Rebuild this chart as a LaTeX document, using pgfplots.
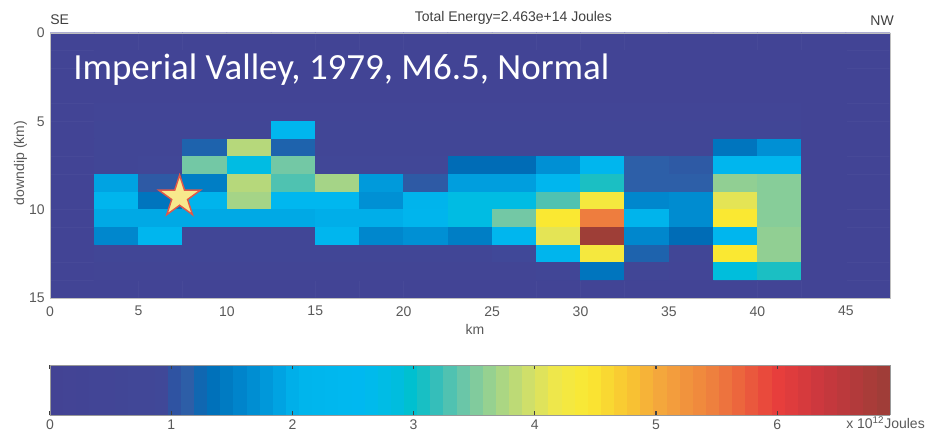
\documentclass[border=0pt]{standalone}
\usepackage{fontspec}
\setmainfont{Liberation Sans}
\newfontfamily\calibri{Carlito}
\usepackage{pgfplots}
\pgfplotsset{compat=1.18}

\pgfdeclareplotmark{fstar}{%
  \pgfpathmoveto{\pgfpointpolar{90}{\pgfplotmarksize}}%
  \pgfpathlineto{\pgfpointpolar{126}{0.382\pgfplotmarksize}}%
  \pgfpathlineto{\pgfpointpolar{162}{\pgfplotmarksize}}%
  \pgfpathlineto{\pgfpointpolar{198}{0.382\pgfplotmarksize}}%
  \pgfpathlineto{\pgfpointpolar{234}{\pgfplotmarksize}}%
  \pgfpathlineto{\pgfpointpolar{270}{0.382\pgfplotmarksize}}%
  \pgfpathlineto{\pgfpointpolar{306}{\pgfplotmarksize}}%
  \pgfpathlineto{\pgfpointpolar{342}{0.382\pgfplotmarksize}}%
  \pgfpathlineto{\pgfpointpolar{18}{\pgfplotmarksize}}%
  \pgfpathlineto{\pgfpointpolar{54}{0.382\pgfplotmarksize}}%
  \pgfpathclose
  \pgfusepathqfillstroke
}

\pgfplotsset{
  colormap={energy}{
    rgb255(0cm)=(67,67,148)
    rgb255(0.98cm)=(64,72,152)
    rgb255(1cm)=(47,80,160)
    rgb255(1.15cm)=(45,95,168)
    rgb255(1.3cm)=(0,108,182)
    rgb255(1.6cm)=(0,135,205)
    rgb255(1.9cm)=(0,163,226)
    rgb255(2.05cm)=(0,180,236)
    rgb255(2.6cm)=(0,185,240)
    rgb255(2.9cm)=(0,190,220)
    rgb255(3.0cm)=(0,192,205)
    rgb255(3.2cm)=(55,190,185)
    rgb255(3.45cm)=(115,200,165)
    rgb255(3.7cm)=(165,212,135)
    rgb255(4.0cm)=(215,225,100)
    rgb255(4.2cm)=(242,232,70)
    rgb255(4.45cm)=(250,232,50)
    rgb255(4.8cm)=(248,195,50)
    rgb255(5.0cm)=(245,170,60)
    rgb255(5.5cm)=(238,125,62)
    rgb255(6.0cm)=(232,62,60)
    rgb255(6.4cm)=(200,55,62)
    rgb255(6.93cm)=(155,62,55)
  }
}

\begin{document}
\begin{tikzpicture}
\begin{axis}[
  name=main,
  at={(37.5pt,100.5pt)}, anchor=south west,
  width=630pt, height=198.75pt, scale only axis,
  xmin=0, xmax=47.5, ymin=0, ymax=15, y dir=reverse,
  enlargelimits=false, axis on top,
  xtick={0,5,...,45}, ytick={0,5,10,15},
  major tick length=0pt,
  axis line style={draw=black!25},
  tick label style={font=\fontsize{10.5}{12}\selectfont, text=black!65, inner sep=0pt},
  xticklabel style={yshift=-6pt},
  yticklabel style={xshift=-3.75pt},
  /pgf/number format/assume math mode=true,
  colormap name=energy,
  point meta min=0, point meta max=6.93,
  colorbar horizontal, colorbar sampled,
  colorbar style={
    at={(parent axis.south west)}, anchor=north west, yshift=-42pt,
    width=630pt, height=37.5pt, scale only axis,
    samples=65,
    xtick={0,1,...,6},
    xtick pos=both, xticklabel pos=lower,
    xtick align=inside,
    major tick length=3pt,
    xtick style={draw=black!75, line width=0.9pt},
    axis line style={draw=black!40},
    xticklabel style={font=\fontsize{10.5}{12}\selectfont, text=black!65, inner sep=0pt, yshift=-3pt},
    /pgf/number format/assume math mode=true,
  },
]
\addplot[matrix plot*, mesh/cols=19, point meta=explicit] coordinates {
(1.25,0.5)[0.2] (3.75,0.5)[0.2] (6.25,0.5)[0.2] (8.75,0.5)[0.2] (11.25,0.5)[0.2] (13.75,0.5)[0.2] (16.25,0.5)[0.2] (18.75,0.5)[0.2] (21.25,0.5)[0.2] (23.75,0.5)[0.2] (26.25,0.5)[0.2] (28.75,0.5)[0.2] (31.25,0.5)[0.2] (33.75,0.5)[0.2] (36.25,0.5)[0.2] (38.75,0.5)[0.2] (41.25,0.5)[0.2] (43.75,0.5)[0.2] (46.25,0.5)[0.2]

(1.25,1.5)[0.2] (3.75,1.5)[0.2] (6.25,1.5)[0.2] (8.75,1.5)[0.2] (11.25,1.5)[0.2] (13.75,1.5)[0.2] (16.25,1.5)[0.2] (18.75,1.5)[0.2] (21.25,1.5)[0.2] (23.75,1.5)[0.2] (26.25,1.5)[0.2] (28.75,1.5)[0.2] (31.25,1.5)[0.2] (33.75,1.5)[0.2] (36.25,1.5)[0.2] (38.75,1.5)[0.2] (41.25,1.5)[0.2] (43.75,1.5)[0.2] (46.25,1.5)[0.2]

(1.25,2.5)[0.2] (3.75,2.5)[0.2] (6.25,2.5)[0.2] (8.75,2.5)[0.2] (11.25,2.5)[0.2] (13.75,2.5)[0.2] (16.25,2.5)[0.2] (18.75,2.5)[0.2] (21.25,2.5)[0.2] (23.75,2.5)[0.2] (26.25,2.5)[0.2] (28.75,2.5)[0.2] (31.25,2.5)[0.2] (33.75,2.5)[0.2] (36.25,2.5)[0.2] (38.75,2.5)[0.2] (41.25,2.5)[0.2] (43.75,2.5)[0.2] (46.25,2.5)[0.2]

(1.25,3.5)[0.2] (3.75,3.5)[0.2] (6.25,3.5)[0.2] (8.75,3.5)[0.2] (11.25,3.5)[0.2] (13.75,3.5)[0.2] (16.25,3.5)[0.2] (18.75,3.5)[0.2] (21.25,3.5)[0.2] (23.75,3.5)[0.2] (26.25,3.5)[0.2] (28.75,3.5)[0.2] (31.25,3.5)[0.2] (33.75,3.5)[0.2] (36.25,3.5)[0.2] (38.75,3.5)[0.2] (41.25,3.5)[0.2] (43.75,3.5)[0.2] (46.25,3.5)[0.2]

(1.25,4.5)[0.2] (3.75,4.5)[0.4] (6.25,4.5)[0.4] (8.75,4.5)[0.4] (11.25,4.5)[0.4] (13.75,4.5)[0.4] (16.25,4.5)[0.4] (18.75,4.5)[0.4] (21.25,4.5)[0.4] (23.75,4.5)[0.4] (26.25,4.5)[0.4] (28.75,4.5)[0.4] (31.25,4.5)[0.4] (33.75,4.5)[0.4] (36.25,4.5)[0.4] (38.75,4.5)[0.4] (41.25,4.5)[0.4] (43.75,4.5)[0.2] (46.25,4.5)[0.2]

(1.25,5.5)[0.2] (3.75,5.5)[0.5] (6.25,5.5)[0.5] (8.75,5.5)[0.5] (11.25,5.5)[0.5] (13.75,5.5)[2.3] (16.25,5.5)[0.5] (18.75,5.5)[0.5] (21.25,5.5)[0.5] (23.75,5.5)[0.5] (26.25,5.5)[0.5] (28.75,5.5)[0.5] (31.25,5.5)[0.5] (33.75,5.5)[0.5] (36.25,5.5)[0.5] (38.75,5.5)[0.5] (41.25,5.5)[0.5] (43.75,5.5)[0.2] (46.25,5.5)[0.2]

(1.25,6.5)[0.2] (3.75,6.5)[0.5] (6.25,6.5)[0.6] (8.75,6.5)[1.2] (11.25,6.5)[3.8] (13.75,6.5)[1.2] (16.25,6.5)[0.6] (18.75,6.5)[0.6] (21.25,6.5)[0.6] (23.75,6.5)[0.6] (26.25,6.5)[0.6] (28.75,6.5)[0.6] (31.25,6.5)[0.6] (33.75,6.5)[0.6] (36.25,6.5)[0.6] (38.75,6.5)[1.4] (41.25,6.5)[1.7] (43.75,6.5)[0.2] (46.25,6.5)[0.2]

(1.25,7.5)[0.2] (3.75,7.5)[0.6] (6.25,7.5)[0.7] (8.75,7.5)[3.45] (11.25,7.5)[2.8] (13.75,7.5)[3.45] (16.25,7.5)[0.7] (18.75,7.5)[0.8] (21.25,7.5)[0.8] (23.75,7.5)[1.3] (26.25,7.5)[1.3] (28.75,7.5)[1.7] (31.25,7.5)[2.3] (33.75,7.5)[1.15] (36.25,7.5)[1.1] (38.75,7.5)[2.3] (41.25,7.5)[2.3] (43.75,7.5)[0.2] (46.25,7.5)[0.2]

(1.25,8.5)[0.2] (3.75,8.5)[1.9] (6.25,8.5)[1.1] (8.75,8.5)[1.5] (11.25,8.5)[3.8] (13.75,8.5)[3.3] (16.25,8.5)[3.7] (18.75,8.5)[1.8] (21.25,8.5)[1.1] (23.75,8.5)[1.85] (26.25,8.5)[1.85] (28.75,8.5)[2.3] (31.25,8.5)[3.1] (33.75,8.5)[1.15] (36.25,8.5)[1.15] (38.75,8.5)[3.6] (41.25,8.5)[3.55] (43.75,8.5)[0.2] (46.25,8.5)[0.2]

(1.25,9.5)[0.2] (3.75,9.5)[2.2] (6.25,9.5)[1.4] (8.75,9.5)[2.1] (11.25,9.5)[3.7] (13.75,9.5)[2.4] (16.25,9.5)[2.4] (18.75,9.5)[1.7] (21.25,9.5)[2.1] (23.75,9.5)[2.8] (26.25,9.5)[2.8] (28.75,9.5)[3.3] (31.25,9.5)[4.3] (33.75,9.5)[1.6] (36.25,9.5)[1.65] (38.75,9.5)[4.1] (41.25,9.5)[3.55] (43.75,9.5)[0.2] (46.25,9.5)[0.2]

(1.25,10.5)[0.2] (3.75,10.5)[1.95] (6.25,10.5)[1.95] (8.75,10.5)[1.95] (11.25,10.5)[1.95] (13.75,10.5)[1.95] (16.25,10.5)[2.0] (18.75,10.5)[2.0] (21.25,10.5)[2.2] (23.75,10.5)[2.8] (26.25,10.5)[3.45] (28.75,10.5)[4.45] (31.25,10.5)[5.5] (33.75,10.5)[2.05] (36.25,10.5)[1.65] (38.75,10.5)[4.45] (41.25,10.5)[3.55] (43.75,10.5)[0.2] (46.25,10.5)[0.2]

(1.25,11.5)[0.2] (3.75,11.5)[1.6] (6.25,11.5)[2.3] (8.75,11.5)[0.6] (11.25,11.5)[0.6] (13.75,11.5)[0.6] (16.25,11.5)[2.3] (18.75,11.5)[1.6] (21.25,11.5)[1.7] (23.75,11.5)[1.5] (26.25,11.5)[2.3] (28.75,11.5)[4.1] (31.25,11.5)[6.9] (33.75,11.5)[1.6] (36.25,11.5)[1.3] (38.75,11.5)[2.3] (41.25,11.5)[3.6] (43.75,11.5)[0.2] (46.25,11.5)[0.2]

(1.25,12.5)[0.2] (3.75,12.5)[0.5] (6.25,12.5)[0.5] (8.75,12.5)[0.5] (11.25,12.5)[0.5] (13.75,12.5)[0.5] (16.25,12.5)[0.5] (18.75,12.5)[0.5] (21.25,12.5)[0.5] (23.75,12.5)[0.6] (26.25,12.5)[0.9] (28.75,12.5)[2.2] (31.25,12.5)[4.3] (33.75,12.5)[1.2] (36.25,12.5)[0.5] (38.75,12.5)[4.45] (41.25,12.5)[3.6] (43.75,12.5)[0.2] (46.25,12.5)[0.2]

(1.25,13.5)[0.2] (3.75,13.5)[0.3] (6.25,13.5)[0.3] (8.75,13.5)[0.3] (11.25,13.5)[0.3] (13.75,13.5)[0.3] (16.25,13.5)[0.3] (18.75,13.5)[0.3] (21.25,13.5)[0.3] (23.75,13.5)[0.3] (26.25,13.5)[0.3] (28.75,13.5)[0.5] (31.25,13.5)[1.4] (33.75,13.5)[0.5] (36.25,13.5)[0.4] (38.75,13.5)[2.9] (41.25,13.5)[3.1] (43.75,13.5)[0.2] (46.25,13.5)[0.2]

(1.25,14.5)[0.2] (3.75,14.5)[0.2] (6.25,14.5)[0.2] (8.75,14.5)[0.2] (11.25,14.5)[0.2] (13.75,14.5)[0.2] (16.25,14.5)[0.2] (18.75,14.5)[0.2] (21.25,14.5)[0.2] (23.75,14.5)[0.2] (26.25,14.5)[0.2] (28.75,14.5)[0.2] (31.25,14.5)[0.2] (33.75,14.5)[0.2] (36.25,14.5)[0.2] (38.75,14.5)[0.2] (41.25,14.5)[0.2] (43.75,14.5)[0.2] (46.25,14.5)[0.2]
};
\addplot[only marks, mark=fstar, mark size=16.4pt,
  mark options={fill={rgb,255:red,248;green,232;blue,140}, draw={rgb,255:red,224;green,88;blue,74}, line width=1.1pt}]
  coordinates {(7.33,9.28)};
\end{axis}
\node[font=\fontsize{10.5}{12}\selectfont, text=black!75] at (385pt,310.9pt) {Total Energy=2.463e+14 Joules};
\node[font=\fontsize{10.5}{12}\selectfont, text=black!75, anchor=west, inner sep=0pt] at (37.5pt,309pt) {SE};
\node[font=\fontsize{10.5}{12}\selectfont, text=black!75, anchor=east, inner sep=0pt] at (670.5pt,308.6pt) {NW};
\node[font=\fontsize{10.5}{12}\selectfont, text=black!65, inner sep=0pt] at (356.25pt,77.25pt) {km};
\node[font=\fontsize{10.5}{12}\selectfont, text=black!65, inner sep=0pt, rotate=90] at (15.4pt,201.75pt) {downdip (km)};
\node[font=\calibri\fontsize{27.7}{32}\selectfont, text=white, anchor=base west, inner sep=0pt] at (54.75pt,264pt) {Imperial Valley, 1979, M6.5, Normal};
\node[font=\fontsize{10.5}{12}\selectfont, text=black!65, anchor=base west, inner sep=0pt] at (634.5pt,2.25pt) {x 10\textsuperscript{12}Joules};
\pgfresetboundingbox
\useasboundingbox (0,0) rectangle (693.75pt,324pt);
\end{tikzpicture}
\end{document}
